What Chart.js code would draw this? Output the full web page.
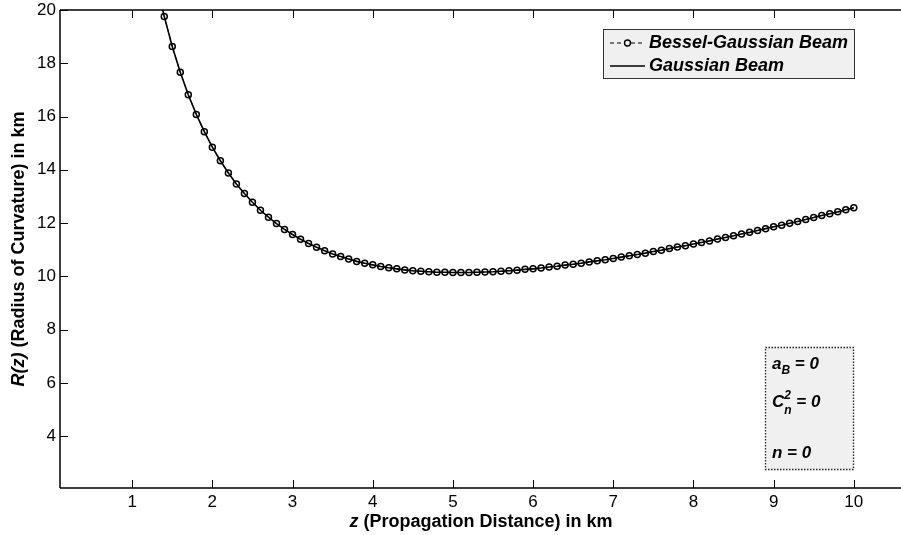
<!DOCTYPE html>
<html>
<head>
<meta charset="UTF-8">
<title>Radius of curvature</title>
<script src="https://cdn.jsdelivr.net/npm/chart.js"></script>
<style>
    body { margin: 0; background: #fff; }
    #wrap { width: 901px; height: 535px; }
</style>
</head>
<body>
<div id="wrap"><canvas id="chart" width="901" height="535"></canvas></div>
<script>
// propagation distance z (km)
const zValues = [1.3, 1.4, 1.5, 1.6, 1.7, 1.8, 1.9, 2.0, 2.1, 2.2, 2.3, 2.4, 2.5, 2.6, 2.7, 2.8, 2.9,
    3.0, 3.1, 3.2, 3.3, 3.4, 3.5, 3.6, 3.7, 3.8, 3.9, 4.0, 4.1, 4.2, 4.3, 4.4, 4.5, 4.6, 4.7, 4.8, 4.9,
    5.0, 5.1, 5.2, 5.3, 5.4, 5.5, 5.6, 5.7, 5.8, 5.9, 6.0, 6.1, 6.2, 6.3, 6.4, 6.5, 6.6, 6.7, 6.8, 6.9,
    7.0, 7.1, 7.2, 7.3, 7.4, 7.5, 7.6, 7.7, 7.8, 7.9, 8.0, 8.1, 8.2, 8.3, 8.4, 8.5, 8.6, 8.7, 8.8, 8.9,
    9.0, 9.1, 9.2, 9.3, 9.4, 9.5, 9.6, 9.7, 9.8, 9.9, 10.0];

// R(z), Bessel-Gaussian beam (km)
const besselR = [21.07, 19.76, 18.63, 17.66, 16.82, 16.08, 15.43, 14.85, 14.34, 13.88, 13.47, 13.11, 12.78, 12.48, 12.22, 11.98, 11.76,
    11.57, 11.39, 11.23, 11.09, 10.96, 10.84, 10.74, 10.65, 10.56, 10.49, 10.43, 10.37, 10.32, 10.28, 10.24, 10.21, 10.19, 10.17, 10.15, 10.15,
    10.14, 10.14, 10.14, 10.15, 10.16, 10.17, 10.19, 10.21, 10.23, 10.26, 10.28, 10.31, 10.35, 10.38, 10.42, 10.45, 10.49, 10.54, 10.58, 10.62,
    10.67, 10.72, 10.77, 10.82, 10.87, 10.93, 10.98, 11.04, 11.10, 11.15, 11.21, 11.27, 11.33, 11.40, 11.46, 11.52, 11.59, 11.65, 11.72, 11.79,
    11.86, 11.92, 11.99, 12.06, 12.13, 12.21, 12.28, 12.35, 12.42, 12.50, 12.57];

// Gaussian beam curve lies on top of the Bessel-Gaussian one
const gaussR = [21.07, 19.76, 18.63, 17.66, 16.82, 16.08, 15.43, 14.85, 14.34, 13.88, 13.47, 13.11, 12.78, 12.48, 12.22, 11.98, 11.76,
    11.57, 11.39, 11.23, 11.09, 10.96, 10.84, 10.74, 10.65, 10.56, 10.49, 10.43, 10.37, 10.32, 10.28, 10.24, 10.21, 10.19, 10.17, 10.15, 10.15,
    10.14, 10.14, 10.14, 10.15, 10.16, 10.17, 10.19, 10.21, 10.23, 10.26, 10.28, 10.31, 10.35, 10.38, 10.42, 10.45, 10.49, 10.54, 10.58, 10.62,
    10.67, 10.72, 10.77, 10.82, 10.87, 10.93, 10.98, 11.04, 11.10, 11.15, 11.21, 11.27, 11.33, 11.40, 11.46, 11.52, 11.59, 11.65, 11.72, 11.79,
    11.86, 11.92, 11.99, 12.06, 12.13, 12.21, 12.28, 12.35, 12.42, 12.50, 12.57];

const xTicks = [1, 2, 3, 4, 5, 6, 7, 8, 9, 10];
const yTicks = [4, 6, 8, 10, 12, 14, 16, 18, 20];
const legendLabels = ['Bessel-Gaussian Beam', 'Gaussian Beam'];

const FONT = '"Liberation Sans", Arial, sans-serif';

// axes, ticks, labels, legend and parameter box, drawn matlab-style
const matlabFrame = {
    id: 'matlabFrame',
    afterDraw(chart) {
        const ctx = chart.ctx;
        const a = chart.chartArea;
        const xs = chart.scales.x, ys = chart.scales.y;
        const W = chart.width;
        ctx.save();
        ctx.strokeStyle = '#000';
        ctx.lineWidth = 1.5;
        ctx.beginPath();
        ctx.moveTo(a.left, a.top); ctx.lineTo(W, a.top);
        ctx.moveTo(a.left, a.top); ctx.lineTo(a.left, a.bottom);
        ctx.moveTo(a.left, a.bottom); ctx.lineTo(W, a.bottom);
        ctx.stroke();

        ctx.lineWidth = 1;
        ctx.beginPath();
        xTicks.forEach(v => {
            const px = Math.round(xs.getPixelForValue(v)) + 0.5;
            ctx.moveTo(px, a.bottom); ctx.lineTo(px, a.bottom - 8);
            ctx.moveTo(px, a.top); ctx.lineTo(px, a.top + 8);
        });
        yTicks.forEach(v => {
            const py = Math.round(ys.getPixelForValue(v)) + 0.5;
            ctx.moveTo(a.left, py); ctx.lineTo(a.left + 8, py);
        });
        ctx.stroke();

        ctx.fillStyle = '#000';
        ctx.font = '17px ' + FONT;
        ctx.textAlign = 'center';
        ctx.textBaseline = 'middle';
        xTicks.forEach(v => ctx.fillText(String(v), xs.getPixelForValue(v), a.bottom + 14));
        ctx.textAlign = 'right';
        yTicks.forEach(v => ctx.fillText(String(v), a.left - 4, ys.getPixelForValue(v)));

        // x label
        ctx.textAlign = 'left';
        ctx.textBaseline = 'alphabetic';
        const xl1 = 'z', xl2 = ' (Propagation Distance) in km';
        ctx.font = 'bold italic 18px ' + FONT;
        const w1 = ctx.measureText(xl1).width;
        ctx.font = 'bold 18px ' + FONT;
        const w2 = ctx.measureText(xl2).width;
        let sx = 481 - (w1 + w2) / 2;
        ctx.font = 'bold italic 18px ' + FONT;
        ctx.fillText(xl1, sx, 527);
        ctx.font = 'bold 18px ' + FONT;
        ctx.fillText(xl2, sx + w1, 527);

        // y label
        ctx.save();
        ctx.translate(24, 249);
        ctx.rotate(-Math.PI / 2);
        const yl1 = 'R(z)', yl2 = ' (Radius of Curvature) in km';
        ctx.font = 'bold italic 18px ' + FONT;
        const v1 = ctx.measureText(yl1).width;
        ctx.font = 'bold 18px ' + FONT;
        const v2 = ctx.measureText(yl2).width;
        let sy = -(v1 + v2) / 2;
        ctx.font = 'bold italic 18px ' + FONT;
        ctx.fillText(yl1, sy, 0);
        ctx.font = 'bold 18px ' + FONT;
        ctx.fillText(yl2, sy + v1, 0);
        ctx.restore();

        // legend
        ctx.fillStyle = '#f0f0f0';
        ctx.fillRect(603.5, 29.5, 251, 49);
        ctx.strokeStyle = '#333';
        ctx.lineWidth = 1;
        ctx.strokeRect(603.5, 29.5, 251, 49);
        ctx.strokeStyle = '#000';
        ctx.setLineDash([4, 3]);
        ctx.beginPath();
        ctx.moveTo(610, 43); ctx.lineTo(645, 43);
        ctx.stroke();
        ctx.setLineDash([]);
        ctx.fillStyle = '#f0f0f0';
        ctx.lineWidth = 1.4;
        ctx.beginPath();
        ctx.arc(627.5, 43, 3, 0, Math.PI * 2);
        ctx.fill(); ctx.stroke();
        ctx.lineWidth = 1.4;
        ctx.beginPath();
        ctx.moveTo(610, 66); ctx.lineTo(645, 66);
        ctx.stroke();
        ctx.fillStyle = '#000';
        ctx.font = 'bold italic 18px ' + FONT;
        ctx.textBaseline = 'middle';
        ctx.fillText(legendLabels[0], 649, 43);
        ctx.fillText(legendLabels[1], 649, 66);

        // parameter box
        ctx.fillStyle = '#f0f0f0';
        ctx.fillRect(765.5, 347.5, 88, 122);
        ctx.strokeStyle = '#222';
        ctx.lineWidth = 1.3;
        ctx.setLineDash([1.5, 1.5]);
        ctx.strokeRect(765.5, 347.5, 88, 122);
        ctx.setLineDash([]);
        ctx.fillStyle = '#000';
        ctx.textBaseline = 'alphabetic';
        ctx.font = 'bold italic 17px ' + FONT;
        ctx.fillText('a', 772, 369);
        let aw = ctx.measureText('a').width;
        ctx.font = 'bold italic 12px ' + FONT;
        ctx.fillText('B', 772 + aw, 374);
        let bw = ctx.measureText('B').width;
        ctx.font = 'bold italic 17px ' + FONT;
        ctx.fillText(' = 0', 772 + aw + bw, 369);

        ctx.fillText('C', 772, 407);
        const cw = ctx.measureText('C').width;
        ctx.font = 'bold italic 12px ' + FONT;
        ctx.fillText('2', 772 + cw, 399);
        ctx.fillText('n', 772 + cw, 414);
        const nw = ctx.measureText('n').width;
        ctx.font = 'bold italic 17px ' + FONT;
        ctx.fillText(' = 0', 772 + cw + nw, 407);

        ctx.fillText('n = 0', 772, 458);
        ctx.restore();
    }
};

const pts = arr => zValues.map((z, i) => ({ x: z, y: arr[i] }));

new Chart(document.getElementById('chart'), {
    type: 'line',
    data: {
        datasets: [
            {
                label: legendLabels[1],
                data: pts(gaussR),
                borderColor: '#000',
                borderWidth: 1.6,
                pointRadius: 0,
                tension: 0
            },
            {
                label: legendLabels[0],
                data: pts(besselR),
                borderColor: '#000',
                borderWidth: 1,
                borderDash: [4, 3],
                pointRadius: 3,
                pointBorderWidth: 1.5,
                pointBorderColor: '#000',
                pointBackgroundColor: 'rgba(0,0,0,0)',
                tension: 0
            }
        ]
    },
    options: {
        responsive: false,
        animation: false,
        layout: { padding: { left: 60, top: 10, right: 0, bottom: 47 } },
        plugins: { legend: { display: false }, tooltip: { enabled: false } },
        scales: {
            x: { type: 'linear', min: 0.1, max: 10.52, display: false },
            y: { type: 'linear', min: 2.05, max: 20, display: false }
        }
    },
    plugins: [matlabFrame]
});
</script>
</body>
</html>
